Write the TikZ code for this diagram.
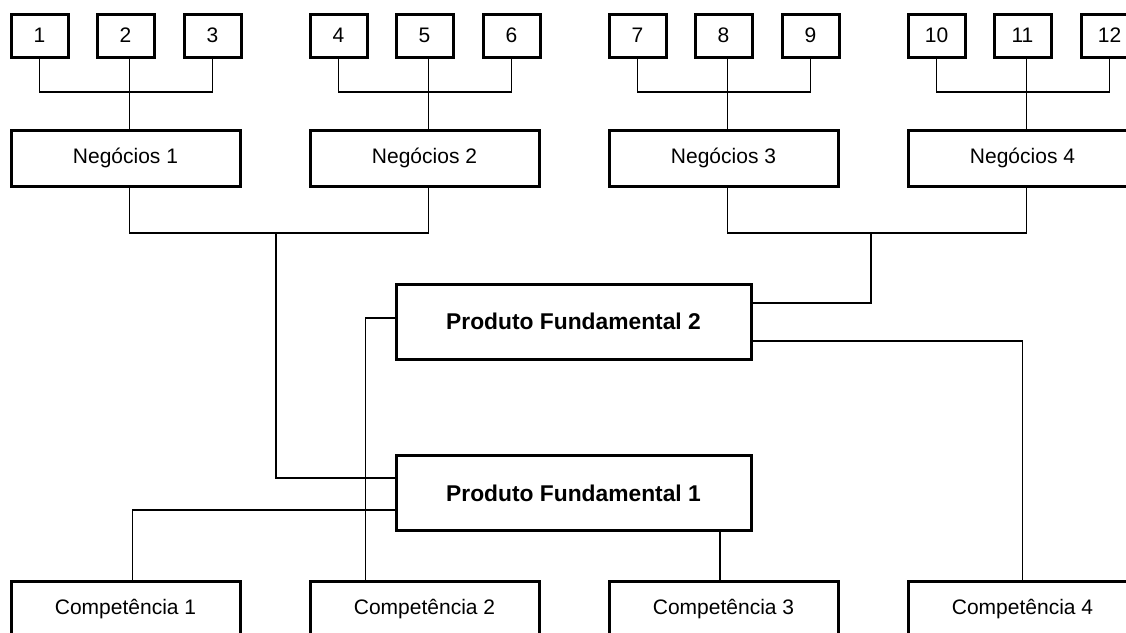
\documentclass[tikz,border=0pt]{standalone}
\usepackage{fontspec}
\setmainfont{Liberation Sans}
\begin{document}
\begin{tikzpicture}[x=1pt,y=-1pt,
  box/.style={draw, line width=3pt, fill=white, inner sep=0pt, font=\fontsize{21}{24}\selectfont},
  numbox/.style={box, minimum width=57pt, minimum height=43pt},
  unitbox/.style={box, minimum width=229pt, minimum height=56pt},
  prodbox/.style={box, minimum width=355pt, minimum height=75pt, font=\fontsize{22.8}{26}\selectfont\bfseries},
  link/.style={draw, line width=1.3pt}]
\useasboundingbox (0,0) rectangle (1126,632);
\clip (0,0) rectangle (1126,632);

% numbered boxes, three per business unit
\foreach \i/\L in {1/10,2/309,3/608,4/907}{
  \pgfmathtruncatemacro{\a}{3*\i-2}
  \pgfmathtruncatemacro{\b}{3*\i-1}
  \pgfmathtruncatemacro{\c}{3*\i}
  \node[numbox] (b\a) at (\L+29.5,35.5) {\a};
  \node[numbox] (b\b) at (\L+115.5,35.5) {\b};
  \node[numbox] (b\c) at (\L+202.5,35.5) {\c};
  \node[unitbox] (neg\i) at (\L+115.5,158) {Negócios \i};
  \node[unitbox] (comp\i) at (\L+115.5,609) {Competência \i};
  \coordinate (t\i) at (\L+119,92);
  \draw[link] (b\a.south) |- (t\i) -| (b\c.south);
  \draw[link] ([xshift=4pt]b\b.south) -- ([xshift=4pt]neg\i.north);
}

% core products
\node[prodbox] (pf2) at (573.5,321.5) {Produto Fundamental 2};
\node[prodbox] (pf1) at (573.5,493) {Produto Fundamental 1};

% business units joined in pairs
\coordinate (ja) at (276,233);
\coordinate (jb) at (871,233);
\draw[link] ([xshift=4pt]neg1.south) |- (ja) -| ([xshift=4pt]neg2.south);
\draw[link] ([xshift=4pt]neg3.south) |- (jb) -| ([xshift=4pt]neg4.south);
\draw[link] (ja) |- ([yshift=15pt]pf1.west);
\draw[link] (jb) |- ([yshift=18.5pt]pf2.east);

% core products to competences
\draw[link] ([yshift=3.5pt]pf2.west) -| ([xshift=-59pt]comp2.north);
\draw[link] ([yshift=-19.5pt]pf2.east) -| (comp4.north);
\draw[link] ([yshift=-17pt]pf1.west) -| ([xshift=7pt]comp1.north);
\draw[link] ([xshift=-3.5pt]comp3.north) -- ([xshift=-3.5pt]comp3.north |- pf1.south);
\end{tikzpicture}
\end{document}
